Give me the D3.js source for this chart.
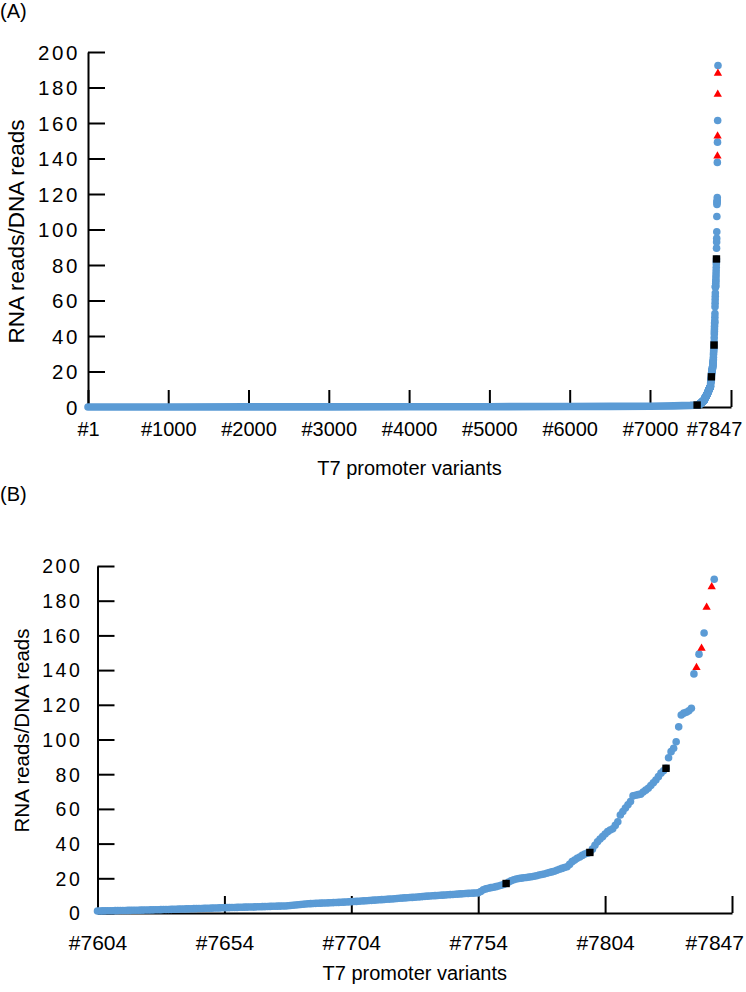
<!DOCTYPE html>
<html><head><meta charset="utf-8">
<script src="https://cdn.jsdelivr.net/npm/d3@7"></script>
<style>
body{margin:0;background:#fff}
svg{display:block}
text{font-family:"Liberation Sans",Arial,Helvetica,sans-serif;fill:#000}
</style>
</head><body>
<svg id="chart" width="746" height="992"></svg>
<script>
// ---------- data ----------
const yTicks = [0, 20, 40, 60, 80, 100, 120, 140, 160, 180, 200];

const aTickIdx = [1, 1000, 2000, 3000, 4000, 5000, 6000, 7000];
const aLabelIdx = [1, 1000, 2000, 3000, 4000, 5000, 6000, 7000, 7847];
const aLabels = ["#1", "#1000", "#2000", "#3000", "#4000", "#5000", "#6000", "#7000", "#7847"];
const aAxisEnd = 8009;

const bTickIdx = [7604, 7654, 7704, 7754, 7804];
const bLabelIdx = [7604, 7654, 7704, 7754, 7804, 7847];
const bLabels = ["#7604", "#7654", "#7704", "#7754", "#7804", "#7847"];
const bAxisEnd = 7854;

// low part of the ranked list (#1 .. #7604), drawn as a dense band in (A)
const lowIdx = [1, 1000, 2000, 3000, 4000, 5000, 6000, 6500, 7000, 7300, 7500, 7604];
const lowVal = [0.0, 0.02, 0.05, 0.08, 0.12, 0.18, 0.28, 0.35, 0.45, 0.65, 0.9, 1.15];

// ranked values #7604 .. #7847 (null = position held by a highlighted variant)
const tailStart = 7604;
const tailValues = [
  1.15,1.18,1.2,1.23,1.26,1.29,1.32,1.35,1.38,1.41,
  1.44,1.47,1.5,1.52,1.55,1.58,1.61,1.63,1.66,1.7,
  1.74,1.78,1.82,1.86,1.9,1.94,1.98,2.02,2.06,2.1,
  2.15,2.2,2.24,2.28,2.32,2.36,2.4,2.45,2.5,2.54,
  2.58,2.62,2.67,2.72,2.76,2.8,2.85,2.9,2.95,3.0,
  3.04,3.08,3.12,3.16,3.2,3.24,3.28,3.32,3.36,3.4,
  3.44,3.48,3.52,3.56,3.6,3.65,3.7,3.75,3.8,3.85,
  3.9,3.94,3.97,4.0,4.05,4.15,4.3,4.45,4.6,4.75,
  4.9,5.05,5.2,5.3,5.4,5.5,5.56,5.62,5.68,5.74,
  5.8,5.86,5.92,5.98,6.04,6.1,6.18,6.26,6.34,6.42,
  6.5,6.6,6.7,6.8,6.9,7.0,7.1,7.2,7.3,7.4,
  7.5,7.6,7.7,7.8,7.9,8.0,8.1,8.2,8.4,8.5,
  8.6,8.7,8.8,8.9,9.0,9.1,9.2,9.3,9.45,9.6,
  9.7,9.8,9.9,10.0,10.1,10.2,10.3,10.4,10.5,10.6,
  10.7,10.8,10.9,11.0,11.1,11.2,11.3,11.4,11.45,11.5,
  11.6,12.4,13.4,13.9,14.3,14.6,14.8,15.2,15.6,16.0,
  16.4,17.0,17.8,18.6,19.2,19.6,19.9,20.1,20.3,20.5,
  20.7,20.9,21.2,21.5,21.9,22.2,22.5,22.9,23.3,23.7,
  24.1,24.6,25.2,25.7,26.2,26.7,28.0,29.6,30.5,31.5,
  32.3,33.2,34.0,34.5,34.9,36.8,39.0,41.1,42.6,44.0,
  45.5,46.9,47.8,48.5,50.5,52.6,56.5,58.5,60.5,62.4,
  64.2,67.5,67.9,68.2,68.5,69.7,70.8,71.9,73.5,75.1,
  76.7,78.6,80.6,82.0,83.4,89.5,93.0,95.0,98.7,107.3,
  114.1,115.2,115.7,116.5,118.0,137.8,null,149.2,null,161.4,
  null,null,null,192.4
];

const squareIdx = [7587, 7765, 7798, 7828];
const squareVal = [1.1, 17.0, 34.9, 83.4];
const triIdx = [7840, 7842, 7844, 7846];
const triVal = [141.4, 152.6, 176.2, 188.0];

// ---------- drawing ----------
const BLUE = "#5B9BD5";
const svg = d3.select("#chart");

const tailPts = tailValues.map((v, i) => ({ i: tailStart + i, v })).filter(d => d.v !== null);
const squares = squareIdx.map((i, k) => ({ i, v: squareVal[k] }));
const tris = triIdx.map((i, k) => ({ i, v: triVal[k] }));
const lowPts = lowIdx.map((i, k) => ({ i, v: lowVal[k] }));

function panel(cfg) {
  const g = svg.append("g");
  const x = d3.scaleLinear().domain(cfg.xDomain).range(cfg.xRange);
  const y = d3.scaleLinear().domain([0, 200]).range(cfg.yRange);

  // panel letter
  svg.append("text").attr("x", 0).attr("y", cfg.letterY)
    .style("font-size", "20px").text(cfg.letter);

  // y axis
  const ya = g.append("g").attr("transform", `translate(${cfg.xRange[0]},0)`)
    .call(d3.axisLeft(y).tickValues(yTicks).tickSizeInner(-17).tickSizeOuter(0)
      .tickPadding(cfg.yPad).tickFormat(d3.format("d")));
  ya.selectAll("path,line").attr("stroke", "#000").attr("stroke-width", 2);
  ya.selectAll("text").style("font-size", cfg.yFont + "px")
    .style("letter-spacing", "2.6px").attr("dy", "0.35em");

  // x axis: ticks
  const y0 = cfg.yRange[0];
  const xt = g.append("g").attr("transform", `translate(0,${y0})`)
    .call(d3.axisBottom(x).tickValues(cfg.tickIdx.concat([cfg.xDomain[1]]))
      .tickSizeInner(-17).tickSizeOuter(0).tickFormat(""));
  xt.selectAll("path,line").attr("stroke", "#000").attr("stroke-width", 2);

  // x axis: labels
  const xl = g.append("g").attr("transform", `translate(0,${y0})`)
    .call(d3.axisBottom(x).tickValues(cfg.labelIdx).tickSize(0)
      .tickPadding(cfg.xPad).tickFormat((d, k) => cfg.labels[k]));
  xl.select(".domain").remove();
  xl.selectAll("text").style("font-size", cfg.xFont + "px").attr("dy", "0.71em")
    .attr("dx", (d, k) => k === cfg.labelIdx.length - 1 ? cfg.lastDx : 0);

  // axis titles
  svg.append("text").attr("text-anchor", "middle")
    .attr("x", (cfg.xRange[0] + cfg.xRange[1]) / 2).attr("y", cfg.xTitleY)
    .style("font-size", "20px").text("T7 promoter variants");
  svg.append("text").attr("text-anchor", "middle")
    .attr("transform", `translate(${cfg.yTitleX},${(cfg.yRange[0] + cfg.yRange[1]) / 2 + cfg.yTitleShift}) rotate(-90)`)
    .style("font-size", cfg.yTitleFont + "px").text("RNA reads/DNA reads");

  const pg = g.append("g");
  if (cfg.drawLow) {
    pg.append("path").datum(lowPts)
      .attr("d", d3.line().x(d => x(d.i)).y(d => y(d.v)))
      .attr("fill", "none").attr("stroke", BLUE).attr("stroke-width", 7.6)
      .attr("stroke-linecap", "round").attr("stroke-linejoin", "round");
  }
  pg.selectAll("circle").data(tailPts).join("circle")
    .attr("cx", d => x(d.i)).attr("cy", d => y(d.v)).attr("r", 3.8).attr("fill", BLUE);
  pg.selectAll("rect.sq").data(squares.filter(d => d.i >= cfg.xDomain[0])).join("rect")
    .attr("class", "sq")
    .attr("x", d => x(d.i) - 3.7).attr("y", d => y(d.v) - 3.7)
    .attr("width", 7.4).attr("height", 7.4).attr("fill", "#000");
  pg.selectAll("path.tri").data(tris).join("path")
    .attr("class", "tri")
    .attr("d", d3.symbol(d3.symbolTriangle).size(30))
    .attr("transform", d => `translate(${x(d.i)},${y(d.v)})`)
    .attr("fill", "#FF0000");
}

panel({
  letter: "(A)", letterY: 18,
  xDomain: [1, aAxisEnd], xRange: [88, 731], yRange: [407, 52],
  tickIdx: aTickIdx, labelIdx: aLabelIdx, labels: aLabels,
  yPad: 8, yFont: 20.5, xPad: 15, xFont: 20, lastDx: -4,
  xTitleY: 475, yTitleX: 24, yTitleFont: 22.5, yTitleShift: 2,
  drawLow: true
});

panel({
  letter: "(B)", letterY: 501,
  xDomain: [tailStart, bAxisEnd], xRange: [97.5, 732], yRange: [913, 566],
  tickIdx: bTickIdx, labelIdx: bLabelIdx, labels: bLabels,
  yPad: 15, yFont: 19.5, xPad: 22, xFont: 21, lastDx: 0,
  xTitleY: 980, yTitleX: 29, yTitleFont: 20.5, yTitleShift: -9,
  drawLow: false
});
</script>
</body></html>
